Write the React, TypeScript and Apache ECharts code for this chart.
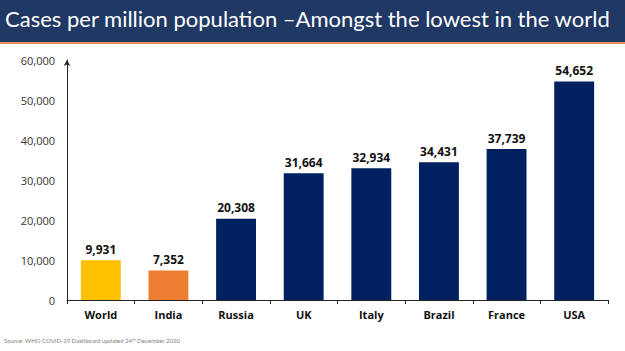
import React, { useEffect, useRef } from "react";
import * as echarts from "echarts";

const categories = ["World", "India", "Russia", "UK", "Italy", "Brazil", "France", "USA"];
const values = [9931, 7352, 20308, 31664, 32934, 34431, 37739, 54652];
const barColors = ["#FFC000", "#ED7D31", "#002060", "#002060", "#002060", "#002060", "#002060", "#002060"];
const titleText = "Cases per million population \u2013Amongst the lowest in the world";

export default function App() {
  const ref = useRef<HTMLDivElement>(null);
  useEffect(() => {
    const chart = echarts.init(ref.current!, null, { renderer: "svg" });
    chart.setOption({
      animation: false,
      backgroundColor: "#ffffff",
      grid: { left: 67, right: 17, top: 60, bottom: 51 },
      xAxis: {
        type: "category",
        data: categories,
        axisLine: { lineStyle: { color: "#222", width: 1 } },
        axisTick: { show: true, length: 4, lineStyle: { color: "#222" } },
        axisLabel: { color: "#111", fontWeight: "bold", fontSize: 11, fontFamily: "Open Sans", margin: 9 },
      },
      yAxis: {
        type: "value",
        min: 0,
        max: 60000,
        interval: 10000,
        splitLine: { show: false },
        axisLine: { show: true, symbol: ["none", "arrow"], symbolSize: [5, 6], lineStyle: { color: "#222", width: 1 } },
        axisTick: { show: false },
        axisLabel: {
          color: "#333",
          fontSize: 11,
          fontFamily: "Open Sans",
          margin: 12,
          formatter: (v: number) => v.toLocaleString("en-US"),
        },
      },
      series: [
        {
          type: "bar",
          barWidth: "59%",
          data: values.map((v, i) => ({ value: v, itemStyle: { color: barColors[i] } })),
          label: {
            show: true,
            position: "top",
            distance: 5,
            color: "#111",
            fontWeight: "bold",
            fontSize: 12,
            fontFamily: "Open Sans",
            formatter: (p: any) => Number(p.value).toLocaleString("en-US"),
          },
        },
      ],
      graphic: [
        { type: "rect", left: 0, top: 0, shape: { width: 625, height: 42 }, style: { fill: "#203864" } },
        { type: "rect", left: 0, top: 42, shape: { width: 625, height: 2 }, style: { fill: "#E9915A" } },
        {
          type: "text",
          left: 5,
          top: 7,
          style: { text: titleText, fill: "#ffffff", fontSize: 22, fontFamily: "Lato" },
        },
        {
          type: "text",
          left: 4,
          top: 337,
          style: {
            text: "{n|Source: WHO COVID-19 Dashboard updated 24}{s|th}{n| December 2020}",
            rich: {
              n: { fill: "#808080", fontSize: 6, fontFamily: "Lato" },
              s: { fill: "#808080", fontSize: 4, fontFamily: "Lato", padding: [0, 0, 3, 0] },
            },
          },
        },
      ],
    });
    return () => chart.dispose();
  }, []);
  return <div ref={ref} style={{ width: 625, height: 351, position: "absolute", left: 0, top: 0 }} />;
}
